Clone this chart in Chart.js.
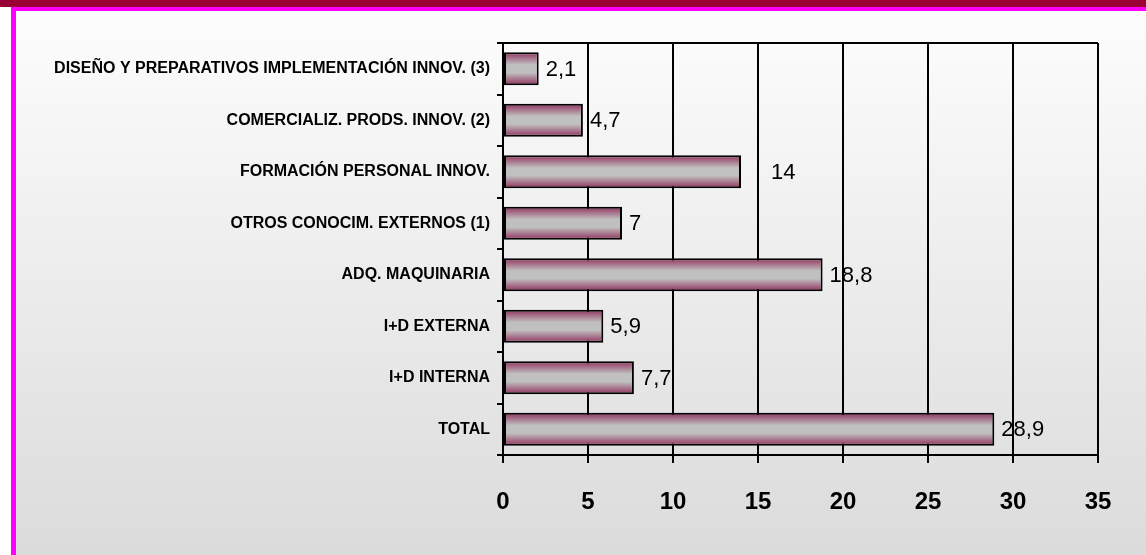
<!DOCTYPE html>
<html>
<head>
<meta charset="utf-8">
<script src="https://cdn.jsdelivr.net/npm/chart.js@4.4.1/dist/chart.umd.min.js"></script>
<style>
  html, body { margin: 0; padding: 0; background: #fff; }
  #wrap { width: 1146px; height: 555px; position: relative; }
</style>
</head>
<body>
<div id="wrap"><canvas id="c" width="1146" height="555"></canvas></div>
<script>
const categories = [
  "DISEÑO Y PREPARATIVOS IMPLEMENTACIÓN INNOV. (3)",
  "COMERCIALIZ. PRODS. INNOV. (2)",
  "FORMACIÓN PERSONAL INNOV.",
  "OTROS CONOCIM. EXTERNOS (1)",
  "ADQ. MAQUINARIA",
  "I+D EXTERNA",
  "I+D INTERNA",
  "TOTAL"
];
const values = [2.1, 4.7, 14, 7, 18.8, 5.9, 7.7, 28.9];
const xTicks = [0, 5, 10, 15, 20, 25, 30, 35];

const fmt = v => String(v).replace('.', ',');

const framePlugin = {
  id: 'frame',
  beforeDraw(chart) {
    const ctx = chart.ctx;
    const W = chart.width, H = chart.height;
    ctx.save();
    ctx.fillStyle = '#ffffff';
    ctx.fillRect(0, 0, W, H);
    const g = ctx.createLinearGradient(0, 11, 0, H);
    g.addColorStop(0, '#fdfdfd');
    g.addColorStop(1, '#dbdbdb');
    ctx.fillStyle = g;
    ctx.fillRect(16, 11, W - 16, H - 11);
    ctx.fillStyle = '#ff00ff';
    ctx.fillRect(11, 7, 5, H - 7);
    ctx.fillRect(11, 7, W - 11, 4);
    ctx.fillStyle = '#990033';
    ctx.fillRect(0, 0, W, 7);
    ctx.restore();
  },
  beforeDatasetsDraw(chart) {
    const ctx = chart.ctx;
    const meta = chart.getDatasetMeta(0);
    meta.data.forEach(bar => {
      const h = bar.height;
      const top = bar.y - h / 2;
      const g = ctx.createLinearGradient(0, top, 0, top + h);
      g.addColorStop(0, '#8f2f5c');
      g.addColorStop(0.38, '#c0c0c0');
      g.addColorStop(0.62, '#c0c0c0');
      g.addColorStop(1, '#8f2f5c');
      bar.options = Object.assign({}, bar.options, { backgroundColor: g });
    });
  },
  afterDraw(chart) {
    const ctx = chart.ctx;
    const a = chart.chartArea;
    ctx.save();
    ctx.strokeStyle = '#000';
    ctx.lineWidth = 2;
    ctx.beginPath();
    ctx.moveTo(a.left, a.top);
    ctx.lineTo(a.right, a.top);
    ctx.stroke();
    // data labels
    const meta = chart.getDatasetMeta(0);
    ctx.fillStyle = '#000';
    ctx.font = '22px "Liberation Sans", Arial, sans-serif';
    ctx.textAlign = 'left';
    ctx.textBaseline = 'middle';
    meta.data.forEach((bar, i) => {
      const v = values[i];
      const off = (v === 14) ? 30 : 7;
      ctx.fillText(fmt(v), bar.x + off, bar.y + 1);
    });
    ctx.restore();
  }
};

new Chart(document.getElementById('c'), {
  type: 'bar',
  data: {
    labels: categories,
    datasets: [{
      data: values,
      backgroundColor: '#c0c0c0',
      borderColor: '#000000',
      borderWidth: 2,
      borderSkipped: false,
      barPercentage: 0.64,
      categoryPercentage: 1.0
    }]
  },
  options: {
    indexAxis: 'y',
    responsive: false,
    animation: false,
    layout: { padding: { left: 16, right: 48, top: 43, bottom: 0 } },
    plugins: { legend: { display: false }, tooltip: { enabled: false } },
    scales: {
      x: {
        min: 0, max: 35,
        afterBuildTicks(scale) { scale.ticks = xTicks.map(v => ({ value: v })); },
        afterFit(scale) { scale.height = 100; },
        grid: { color: '#000', lineWidth: 2, tickLength: 8, drawTicks: true },
        border: { color: '#000', width: 2 },
        ticks: {
          color: '#000',
          padding: 25,
          font: { family: '"Liberation Sans", Arial, sans-serif', size: 24, weight: 'bold' }
        }
      },
      y: {
        afterFit(scale) { scale.width = 487; },
        grid: { offset: true, drawOnChartArea: false, color: '#000', lineWidth: 2, tickLength: 6 },
        border: { color: '#000', width: 2 },
        ticks: {
          color: '#000',
          padding: 7,
          font: { family: '"Liberation Sans", Arial, sans-serif', size: 16, weight: 'bold' }
        }
      }
    }
  },
  plugins: [framePlugin]
});
</script>
</body>
</html>
